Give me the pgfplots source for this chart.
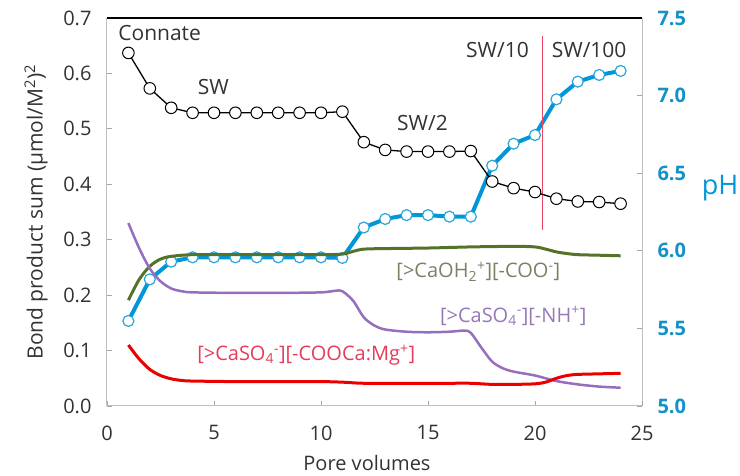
\documentclass[border=0pt]{standalone}
\usepackage{fontspec}
\setmainfont{Open Sans}
\usepackage{pgfplots}
\pgfplotsset{compat=1.18}
\definecolor{pHblue}{RGB}{0,150,215}
\definecolor{tickblue}{RGB}{20,145,200}
\definecolor{olive2}{RGB}{85,115,40}
\definecolor{oliveText}{RGB}{125,128,100}
\definecolor{lav}{RGB}{150,110,190}
\definecolor{lavText}{RGB}{150,120,185}
\definecolor{redline}{RGB}{235,0,0}
\definecolor{redText}{RGB}{230,60,90}
\definecolor{vline}{RGB}{235,70,100}
\definecolor{txt}{RGB}{50,50,50}
\begin{document}
\begin{tikzpicture}
\useasboundingbox (-107pt,-70pt) rectangle (633pt,406pt);
\pgfplotsset{base/.style={scale only axis, width=535pt, height=388pt, xmin=0, xmax=25,
  tick align=inside, major tick length=5pt, tick style={gray!70, line width=0.8pt},
  axis line style={gray!50, line width=1pt}, /pgf/number format/assume math mode=true, clip=false}}
\begin{axis}[base, ymin=5, ymax=7.5, axis y line*=right, axis x line=none,
  ytick={5,5.5,6,6.5,7,7.5},
  yticklabel style={font=\fontsize{20}{24}\selectfont\bfseries, text=tickblue, xshift=12pt,
    /pgf/number format/.cd, fixed, fixed zerofill, precision=1}]
\addplot[pHblue, line width=4pt, mark=*, mark size=5.5pt, mark options={fill=white, draw=pHblue!85, line width=1.2pt}] coordinates {
(1,5.548) (2,5.816) (3,5.93) (4,5.958) (5,5.958) (6,5.958) (7,5.958) (8,5.958) (9,5.958) (10,5.958)
(11,5.954) (12,6.15) (13,6.205) (14,6.23) (15,6.23) (16,6.22) (17,6.22) (18,6.548) (19,6.69) (20,6.746)
(21,6.976) (22,7.09) (23,7.133) (24,7.159)};
\end{axis}
\begin{axis}[base, ymin=0, ymax=0.7, axis y line*=left, axis x line*=bottom,
  xtick={0,5,10,15,20,25}, ytick={0,0.1,0.2,0.3,0.4,0.5,0.6,0.7},
  yticklabel style={font=\fontsize{20}{24}\selectfont, text=txt, xshift=-12pt,
    /pgf/number format/.cd, fixed, fixed zerofill, precision=1},
  xticklabel style={font=\fontsize{20}{24}\selectfont, text=txt, yshift=-16pt}]
\draw[black, line width=1.3pt] (rel axis cs:0,1) -- (rel axis cs:1,1);
\addplot[olive2, line width=3pt, smooth] coordinates {
(1,0.191) (1.5,0.228) (2,0.252) (2.5,0.265) (3,0.270) (4,0.273) (6,0.273) (8,0.273) (10,0.273)
(11,0.274) (11.5,0.279) (12,0.283) (13,0.284) (15,0.285) (17,0.287) (19,0.288) (20,0.287)
(20.5,0.283) (21,0.278) (21.5,0.275) (22,0.273) (23,0.272) (24,0.271)};
\addplot[lav, line width=2.5pt, smooth] coordinates {
(1,0.330) (1.5,0.285) (2,0.248) (2.5,0.225) (3,0.212) (3.5,0.207) (4,0.205) (6,0.204) (8,0.204)
(10,0.205) (10.7,0.208) (11,0.207) (11.5,0.190) (12,0.160) (12.5,0.145) (13,0.138) (14,0.134)
(15,0.133) (16,0.134) (16.7,0.136) (17,0.132) (17.5,0.105) (18,0.080) (18.5,0.068) (19,0.062)
(20,0.055) (21,0.045) (22,0.039) (23,0.035) (24,0.033)};
\addplot[redline, line width=3pt, smooth] coordinates {
(1,0.110) (1.5,0.085) (2,0.066) (2.5,0.055) (3,0.049) (3.5,0.046) (4,0.045) (6,0.044) (8,0.044)
(10,0.044) (11,0.043) (12,0.041) (14,0.041) (16,0.041) (17,0.041) (18,0.039) (19,0.039) (20,0.040)
(20.5,0.043) (21,0.050) (21.5,0.055) (22,0.057) (23,0.058) (24,0.059)};
\addplot[vline, line width=1pt] coordinates {(20.36,0.318) (20.36,0.667)};
\addplot[black, line width=1.3pt, mark=*, mark size=5.8pt, mark options={fill=white, draw=black, line width=1pt}] coordinates {
(1,0.637) (2,0.573) (3,0.538) (4,0.529) (5,0.529) (6,0.529) (7,0.529) (8,0.529) (9,0.529) (10,0.529)
(11,0.531) (12,0.476) (13,0.462) (14,0.459) (15,0.459) (16,0.459) (17,0.460) (18,0.405) (19,0.393)
(20,0.386) (21,0.374) (22,0.369) (23,0.368) (24,0.365)};
\node[anchor=west, text=txt, font=\fontsize{21}{25}\selectfont, inner sep=0pt] at (axis cs:0.52,0.673) {Connate};
\node[text=txt, font=\fontsize{21}{25}\selectfont, inner sep=0pt] at (axis cs:4.97,0.576) {SW};
\node[text=txt, font=\fontsize{21}{25}\selectfont, inner sep=0pt] at (axis cs:14.74,0.511) {SW/2};
\node[text=txt, font=\fontsize{21}{25}\selectfont, inner sep=0pt] at (axis cs:18.25,0.643) {SW/10};
\node[text=txt, font=\fontsize{21}{25}\selectfont, inner sep=0pt] at (axis cs:22.53,0.643) {SW/100};
\node[text=oliveText, font=\fontsize{20}{24}\selectfont, inner sep=0pt] at (axis cs:17.35,0.2425) {[>CaOH\textsubscript{2}\textsuperscript{+}][-COO\textsuperscript{-}]};
\node[text=lavText, font=\fontsize{20}{24}\selectfont, inner sep=0pt] at (axis cs:18.98,0.1625) {[>CaSO\textsubscript{4}\textsuperscript{-}][-NH\textsuperscript{+}]};
\node[text=redText, font=\fontsize{20}{24}\selectfont, inner sep=0pt] at (axis cs:9.31,0.092) {[>CaSO\textsubscript{4}\textsuperscript{-}][-COOCa:Mg\textsuperscript{+}]};
\end{axis}
\node[rotate=90, text=txt, font=\fontsize{21}{25}\selectfont, inner sep=0pt] at (-71pt,194pt) {Bond product sum (µmol/M\textsuperscript{2})\textsuperscript{2}};
\node[text=txt, font=\fontsize{20}{24}\selectfont, inner sep=0pt] at (260pt,-57pt) {Pore volumes};
\node[text=pHblue, font=\fontsize{27}{30}\selectfont, inner sep=0pt] at (613pt,218pt) {pH};
\end{tikzpicture}
\end{document}
